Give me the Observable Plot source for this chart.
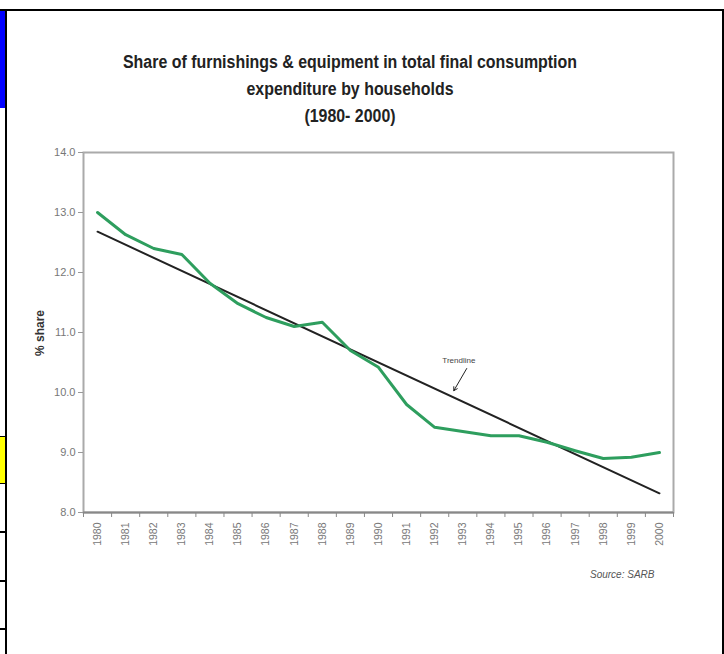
<!DOCTYPE html>
<html>
<head>
<meta charset="utf-8">
<script src="https://cdn.jsdelivr.net/npm/d3@7"></script>
<script src="https://cdn.jsdelivr.net/npm/@observablehq/plot@0.6"></script>
<style>
  html, body { margin: 0; padding: 0; background: #fff; }
  #wrap { position: relative; width: 724px; height: 654px; overflow: hidden; background: #fff; }
  .abs { position: absolute; }
  #title { left: 0; width: 700px; top: 49px; text-align: center; font-family: "Liberation Sans", Arial, sans-serif; font-weight: bold; font-size: 18px; line-height: 27px; color: #222; transform: scaleX(0.885); transform-origin: 350px 0; }
  #source { left: 590px; top: 569px; font-family: "Liberation Sans", Arial, sans-serif; font-style: italic; font-size: 10px; color: #555; }
  #ylab { left: 40px; top: 333px; transform: translate(-50%, -50%) rotate(-90deg); font-family: "Liberation Sans", Arial, sans-serif; font-weight: bold; font-size: 12px; color: #333; white-space: nowrap; }
</style>
</head>
<body>
<div id="wrap">
  <div id="chart" class="abs" style="left:0;top:0"></div>
  <!-- page frame decorations -->
  <div class="abs" style="left:0;top:9px;width:724px;height:2px;background:#000"></div>
  <div class="abs" style="left:5px;top:9px;width:2px;height:645px;background:#000"></div>
  <div class="abs" style="left:722px;top:9px;width:2px;height:645px;background:#000"></div>
  <div class="abs" style="left:0;top:11px;width:5px;height:97px;background:#0000ff"></div>
  <div class="abs" style="left:0;top:436px;width:5px;height:1px;background:#000"></div>
  <div class="abs" style="left:0;top:437px;width:5px;height:46px;background:#ffff00"></div>
  <div class="abs" style="left:0;top:483px;width:5px;height:1px;background:#000"></div>
  <div class="abs" style="left:0;top:531px;width:5px;height:2px;background:#000"></div>
  <div class="abs" style="left:0;top:580px;width:5px;height:2px;background:#000"></div>
  <div class="abs" style="left:0;top:628px;width:5px;height:2px;background:#000"></div>
  <div id="title" class="abs">Share of furnishings &amp; equipment in total final consumption<br>expenditure by households<br>(1980- 2000)</div>
  <div id="ylab" class="abs">% share</div>
  <div id="source" class="abs">Source: SARB</div>
</div>
<script>
// ---- data ----
const years = [1980,1981,1982,1983,1984,1985,1986,1987,1988,1989,1990,1991,1992,1993,1994,1995,1996,1997,1998,1999,2000];
const shareValues = [13.0,12.63,12.4,12.3,11.82,11.48,11.25,11.1,11.17,10.7,10.42,9.8,9.42,9.35,9.28,9.28,9.17,9.03,8.9,8.92,9.0];
const trendYears = [1980, 2000];
const trendValues = [12.68, 8.32];
const yTicks = [8, 9, 10, 11, 12, 13, 14];
const trendLabel = ["Trendline"];

const shareData = years.map((y, i) => ({year: y, value: shareValues[i]}));
const trendData = trendYears.map((y, i) => ({year: y, value: trendValues[i]}));
const bandEdges = years.map(y => y - 0.5).concat([years[years.length - 1] + 0.5]);

const chart = Plot.plot({
  width: 724,
  height: 654,
  marginLeft: 83,
  marginRight: 51,
  marginTop: 152,
  marginBottom: 142,
  style: {background: "transparent", fontFamily: "Liberation Sans, Arial, sans-serif", fontSize: "10.5px", color: "#777"},
  x: {domain: [1979.5, 2000.5]},
  y: {domain: [8, 14]},
  marks: [
    Plot.frame({stroke: "#aaa", strokeWidth: 2}),
    Plot.axisY({ticks: yTicks, tickFormat: d3.format(".1f"), tickSize: 5, tickPadding: 3, stroke: "#999", label: null, fontSize: 11}),
    Plot.axisX({ticks: bandEdges, tickFormat: () => "", tickSize: 5, stroke: "#888", label: null}),
    Plot.axisX({ticks: years, tickFormat: d => String(d), tickSize: 0, tickPadding: 10, tickRotate: -90, label: null, fontSize: 10.5}),
    Plot.ruleY([8], {stroke: "#888", strokeWidth: 2}),
    Plot.line(trendData, {x: "year", y: "value", stroke: "#222", strokeWidth: 2}),
    Plot.line(shareData, {x: "year", y: "value", stroke: "#2e9e5e", strokeWidth: 3}),
    Plot.arrow([{x1: 1993.14, y1: 10.4, x2: 1992.68, y2: 10.03}], {x1: "x1", y1: "y1", x2: "x2", y2: "y2", stroke: "#222", strokeWidth: 1, headLength: 6}),
    Plot.text(trendLabel, {x: [1992.86], y: [10.53], text: d => d, fill: "#444", fontSize: 8})
  ]
});
document.getElementById("chart").appendChild(chart);
</script>
</body>
</html>
